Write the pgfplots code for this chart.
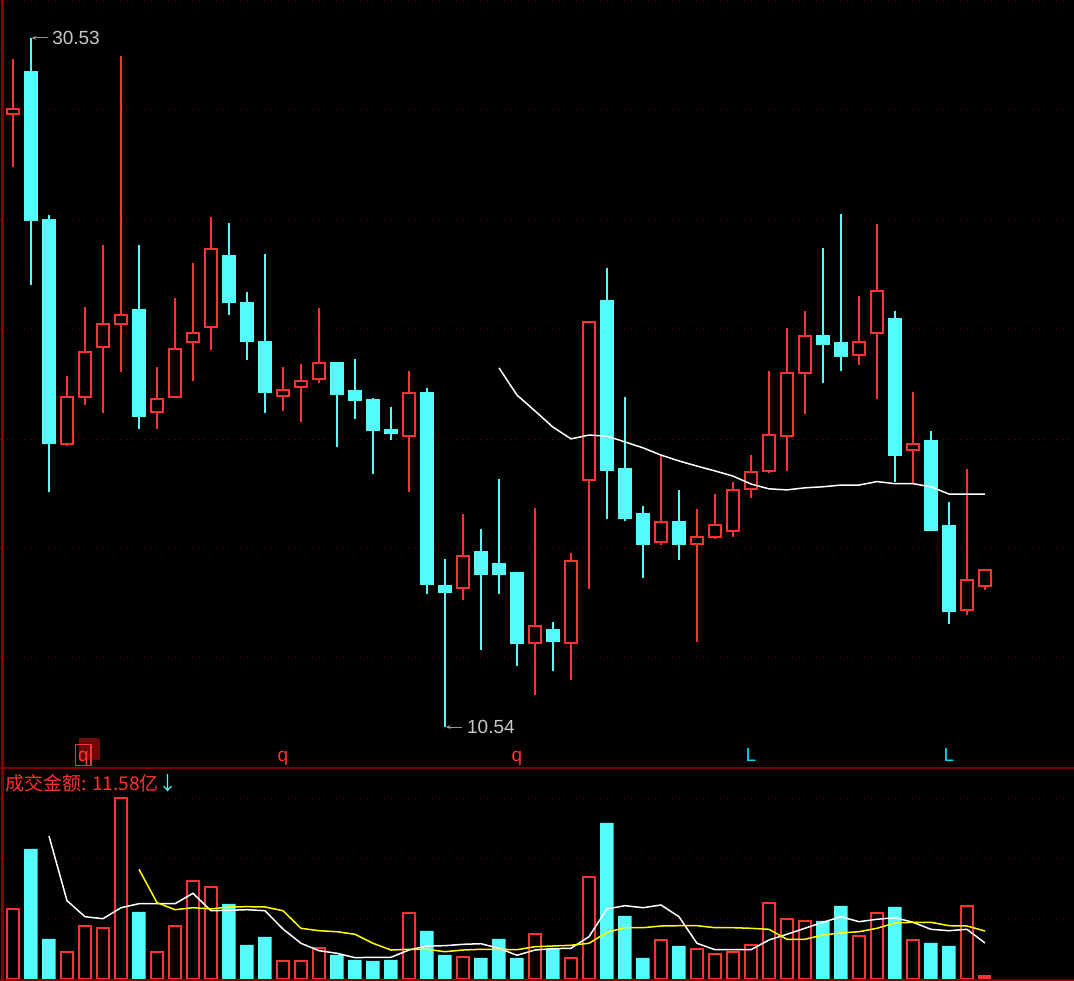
\documentclass[border=0pt]{standalone}
\usepackage{pgfplots}
\pgfplotsset{compat=1.18}
\usepackage{pgfplotstable}
\usepgfplotslibrary{statistics}
\usetikzlibrary{arrows.meta}
\usepackage{fontspec}
\setmainfont{Liberation Sans}
\newfontfamily\cjk{Noto Sans CJK SC}
\definecolor{upred}{RGB}{255,50,50}
\definecolor{dncyan}{RGB}{84,252,252}
\definecolor{gridred}{RGB}{128,0,0}
\definecolor{boxdark}{RGB}{110,10,10}
\definecolor{lcyan}{RGB}{0,220,255}
\definecolor{anngray}{RGB}{200,200,200}
\definecolor{arrgray}{RGB}{150,150,150}
\definecolor{mayellow}{RGB}{255,255,0}

\pgfplotsset{
  upcandle/.style={draw=upred, fill=black, line width=2pt, solid},
  dncandle/.style={draw=dncyan, fill=dncyan, line width=2pt, solid},
}

% daily candles: index, open, high, low, close
\pgfplotstableread{
i o h l c
1 28.33 29.91 26.80 28.47
2 29.54 30.53 23.36 25.25
3 25.25 25.39 17.37 18.79
4 18.75 20.72 18.70 20.11
5 20.11 22.73 19.89 21.42
6 21.57 24.52 19.66 22.23
7 22.23 30.01 20.85 22.49
8 22.64 24.52 19.20 19.57
9 19.68 20.99 19.20 20.06
10 20.11 22.99 20.09 21.51
11 21.71 24.00 20.59 21.97
12 22.15 25.34 21.49 24.41
13 24.21 25.16 22.50 22.88
14 22.84 23.16 21.20 21.75
15 21.71 24.26 19.66 20.27
16 20.14 20.99 19.72 20.31
17 20.40 21.07 19.40 20.57
18 20.63 22.70 20.53 21.09
19 21.10 21.13 18.67 20.21
20 20.29 21.22 19.49 20.04
21 20.03 20.08 17.89 19.17
22 19.16 19.82 18.88 19.08
23 18.98 20.87 17.37 20.22
24 20.23 20.38 14.41 14.70
25 14.62 15.42 10.54 14.47
26 14.57 16.72 14.23 15.51
27 15.62 16.29 12.78 14.99
28 15.27 17.74 14.41 14.99
29 15.01 15.04 12.32 12.99
30 12.97 16.89 11.48 13.48
31 13.36 13.59 12.17 13.05
32 12.97 15.59 11.91 15.35
33 17.70 22.32 14.54 22.29
34 22.90 23.86 16.58 18.01
35 18.03 20.11 16.53 16.61
36 16.72 16.95 14.87 15.86
37 15.92 18.45 15.83 16.48
38 16.49 17.42 15.39 15.86
39 15.84 16.87 13.02 16.04
40 16.04 17.30 16.00 16.39
41 16.22 17.65 16.06 17.43
42 17.45 18.43 17.19 17.95
43 17.96 20.87 17.92 19.00
44 18.98 22.12 17.98 20.80
45 20.80 22.61 19.63 21.88
46 21.88 24.44 20.53 21.66
47 21.68 25.42 20.88 21.31
48 21.32 23.05 21.05 21.70
49 21.96 25.13 20.06 23.18
50 22.38 22.61 17.66 18.44
51 18.57 20.26 17.59 18.74
52 18.84 19.13 16.24 16.27
53 16.37 17.07 13.54 13.92
54 13.93 18.03 13.80 14.80
55 14.62 15.09 14.52 15.09
}\ohlc

% price moving average
\pgfplotstableread{
i ma
28 20.96
29 20.17
30 19.71
31 19.24
32 18.90
33 19.01
34 18.98
35 18.81
36 18.64
37 18.43
38 18.26
39 18.11
40 17.97
41 17.82
42 17.59
43 17.45
44 17.42
45 17.48
46 17.51
47 17.56
48 17.56
49 17.66
50 17.60
51 17.60
52 17.51
53 17.30
54 17.30
55 17.30
}\pricema

% turnover, up days
\pgfplotstableread{
i v
1 11.67
4 4.55
5 8.88
6 8.45
7 30.12
9 4.55
10 8.88
11 16.38
12 15.38
16 3.05
17 3.05
18 5.12
23 11.05
26 3.62
30 7.45
32 3.45
33 16.95
37 6.45
39 4.95
40 4.12
41 4.55
42 5.62
43 12.62
44 9.95
45 9.62
48 7.12
49 10.95
51 6.45
54 12.12
}\volup

% turnover, down days
\pgfplotstableread{
i v
2 21.67
3 6.67
8 11.17
13 12.50
14 5.67
15 7.00
19 4.00
20 3.17
21 3.00
22 3.17
24 8.00
25 4.00
27 3.50
28 6.67
29 3.50
31 5.12
34 26.00
35 10.50
36 3.50
38 5.50
46 9.67
47 12.17
50 12.00
52 6.00
53 5.50
}\voldn

% turnover moving averages
\pgfplotstableread{
i m
3 23.83
4 13.05
5 10.38
6 10.05
7 11.88
8 12.55
9 12.55
10 12.55
11 14.28
12 11.38
13 11.45
14 11.55
15 11.38
16 8.33
17 5.95
18 4.72
19 4.28
20 3.55
21 3.62
22 3.62
23 4.83
24 5.50
25 5.55
26 5.78
27 5.88
28 5.12
29 3.95
30 4.83
31 5.05
32 5.12
33 7.05
34 11.67
35 12.22
36 11.88
37 12.33
38 10.38
39 5.95
40 4.88
41 4.88
42 4.88
43 6.50
44 7.45
45 8.45
46 9.45
47 10.38
48 9.55
49 9.95
50 10.22
51 9.45
52 8.28
53 8.05
54 8.28
55 6.00
}\volmaw

\pgfplotstableread{
i m
8 18.28
9 12.72
10 11.55
11 11.88
12 11.67
13 12.00
14 12.05
15 12.00
16 11.38
17 8.45
18 8.05
19 7.88
20 7.45
21 5.95
22 4.83
23 4.95
24 4.95
25 4.55
26 4.83
27 4.95
28 4.95
29 4.88
30 5.38
31 5.50
32 5.62
33 5.95
34 7.78
35 8.55
36 8.55
37 8.83
38 8.88
39 8.88
40 8.55
41 8.55
42 8.45
43 8.28
44 6.62
45 6.62
46 7.33
47 7.67
48 7.88
49 8.45
50 9.33
51 9.45
52 9.45
53 8.88
54 8.83
55 8.00
}\volmay

\begin{document}
\begin{tikzpicture}
\path[use as bounding box] (0pt,0pt) rectangle (1074pt,981pt);
\fill[black] (0pt,0pt) rectangle (1074pt,981pt);

% ---------- price panel ----------
\begin{axis}[
  at={(0pt,214pt)}, anchor=south west,
  scale only axis, width=1074pt, height=767pt,
  xmin=0.27778, xmax=59.9444, ymin=9.381, ymax=31.632,
  axis line style={draw=none},
  xtick=\empty,
  ytick={12.543,15.734,18.896,22.087,25.250,28.441,31.574},
  yticklabels={}, major tick length=0pt,
  ymajorgrids,
  major grid style={gridred, line width=1pt, dash pattern=on 1pt off 5pt},
  clip=false,
  boxplot/draw direction=y,
  boxplot/box extend=0.64,
  boxplot/whisker extend=0,
  boxplot/every whisker/.style={line width=2pt},
]
\pgfplotsforeachungrouped \r in {0,...,54}{%
  \pgfplotstablegetelem{\r}{i}\of\ohlc\let\cI\pgfplotsretval
  \pgfplotstablegetelem{\r}{o}\of\ohlc\let\cO\pgfplotsretval
  \pgfplotstablegetelem{\r}{h}\of\ohlc\let\cH\pgfplotsretval
  \pgfplotstablegetelem{\r}{l}\of\ohlc\let\cL\pgfplotsretval
  \pgfplotstablegetelem{\r}{c}\of\ohlc\let\cC\pgfplotsretval
  \pgfmathsetmacro\cLo{min(\cO,\cC)}%
  \pgfmathsetmacro\cHi{max(\cO,\cC)}%
  \pgfmathtruncatemacro\cUp{(\cC>=\cO) ? 1 : 0}%
  \ifnum\cUp=1 \def\cSty{upcandle}\else\def\cSty{dncandle}\fi
  \edef\tmp{\noexpand\addplot[\cSty, boxplot prepared={draw position=\cI,
     lower whisker=\cL, lower quartile=\cLo, median=\cLo,
     upper quartile=\cHi, upper whisker=\cH}] coordinates {};}%
  \tmp
}
\addplot[white, line width=1.5pt, mark=none] table[x=i, y=ma] {\pricema};

\draw[arrgray, line width=1pt, -{Stealth[length=5pt,width=4pt]}] (axis cs:2.94,30.53) -- (axis cs:2.02,30.53);
\node[anchor=west, inner sep=0pt, text=anngray, font=\fontsize{19}{19}\selectfont] at (axis cs:3.17,30.53) {30.53};
\draw[arrgray, line width=1pt, -{Stealth[length=5pt,width=4pt]}] (axis cs:25.96,10.54) -- (axis cs:25.04,10.54);
\node[anchor=west, inner sep=0pt, text=anngray, font=\fontsize{19}{19}\selectfont] at (axis cs:26.22,10.54) {10.54};
\end{axis}

% ---------- turnover panel ----------
\begin{axis}[
  at={(0pt,0pt)}, anchor=south west,
  scale only axis, width=1074pt, height=214pt,
  xmin=0.27778, xmax=59.9444, ymin=-0.3333, ymax=35.333,
  axis line style={draw=none},
  xtick=\empty,
  ytick={10,20,30}, yticklabels={}, major tick length=0pt,
  ymajorgrids,
  major grid style={gridred, line width=1pt, dash pattern=on 1pt off 5pt},
  clip=false,
]
\addplot[ybar, bar shift=0pt, bar width=13.5pt, fill=dncyan, draw=none] table[x=i, y=v] {\voldn};
\addplot[ybar, bar shift=0pt, bar width=11.5pt, fill=black, draw=upred, line width=2pt] table[x=i, y=v] {\volup};
\addplot[ybar, bar shift=0pt, bar width=13pt, fill=upred, draw=none] coordinates {(55,0.67)};
\addplot[white, line width=1.5pt, mark=none] table[x=i, y=m] {\volmaw};
\addplot[mayellow, line width=1.5pt, mark=none] table[x=i, y=m] {\volmay};
\end{axis}

% ---------- frame and labels ----------
\draw[gridred, line width=2pt] (0pt,213pt) -- (1074pt,213pt);
\draw[gridred, line width=2pt] (0pt,1pt) -- (1074pt,1pt);
\draw[gridred, line width=2.5pt] (2.5pt,0pt) -- (2.5pt,981pt);

\fill[boxdark] (79pt,221pt) rectangle (100pt,243pt);
\draw[upred, line width=1.5pt] (75.5pt,215.5pt) rectangle (91pt,236.5pt);
\node[anchor=base, inner sep=0pt, text=upred, font=\fontsize{19}{19}\selectfont] at (83.5pt,219pt) {q};
\node[anchor=base, inner sep=0pt, text=upred, font=\fontsize{19}{19}\selectfont] at (283pt,219pt) {q};
\node[anchor=base, inner sep=0pt, text=upred, font=\fontsize{19}{19}\selectfont] at (517pt,219pt) {q};
\node[anchor=base, inner sep=0pt, text=lcyan, font=\fontsize{19}{19}\selectfont] at (751pt,219pt) {L};
\node[anchor=base, inner sep=0pt, text=lcyan, font=\fontsize{19}{19}\selectfont] at (949pt,219pt) {L};

\node[anchor=west, inner sep=0pt, font=\cjk\fontsize{19}{19}\selectfont] at (5pt,198pt) {\color{upred}成交金额: 11.58亿\color{dncyan}↓};
\end{tikzpicture}
\end{document}
